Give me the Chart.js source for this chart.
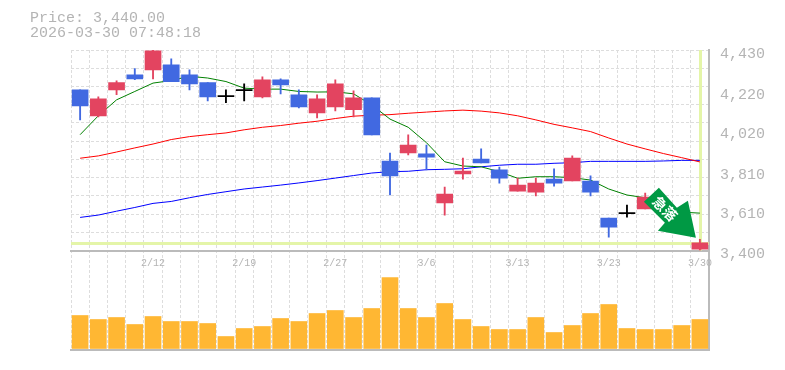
<!DOCTYPE html>
<html>
<head>
<meta charset="utf-8">
<style>
    html, body { margin: 0; padding: 0; background: #fff; overflow: hidden; }
    #wrap { position: relative; width: 785px; height: 370px; }
    canvas { position: absolute; left: 0; }
    #volumeChart { top: 250px; }
    #priceChart { top: 0; }
    .head { position: absolute; left: 30px; font: 15px/15px "Liberation Mono", monospace; color: #b4b4b4; white-space: pre; }
</style>
</head>
<body>
<div id="wrap">
    <canvas id="volumeChart" width="785" height="120"></canvas>
    <canvas id="priceChart" width="785" height="280"></canvas>
    <div class="head" style="top:11px">Price: 3,440.00</div>
    <div class="head" style="top:26px">2026-03-30 07:48:18</div>
</div>
<script src="https://cdn.jsdelivr.net/npm/chart.js@4/dist/chart.umd.min.js"></script>
<script>
const dates = ['2/5','2/6','2/9','2/10','2/12','2/13','2/16','2/17','2/18','2/19','2/20','2/24','2/25','2/26','2/27',
    '3/2','3/3','3/4','3/5','3/6','3/9','3/10','3/11','3/12','3/13','3/16','3/17','3/18','3/19','3/23','3/24','3/25','3/26','3/27','3/30'];
const opens = [4225,4092,4225,4303,4328,4354,4303,4262,4196,4227,4189,4277,4200,4107,4138,4123,4184,3860,3901,3896,3644,3793,3870,3814,3705,3700,3767,3757,3757,3566,3595,3613,3597,3597,3407];
const closes = [4143,4179,4262,4282,4426,4267,4256,4189,4190,4221,4277,4251,4138,4179,4256,4184,3994,3783,3942,3880,3690,3808,3850,3772,3736,3746,3746,3875,3700,3520,3589,3674,3644,3530,3440];
const highs = [4225,4189,4272,4334,4431,4385,4328,4262,4225,4256,4292,4282,4225,4200,4277,4220,4184,3901,3994,3942,3726,3875,3922,3829,3772,3772,3819,3886,3783,3566,3633,3695,3669,3623,3458];
const lows = [4071,4086,4200,4277,4282,4267,4225,4169,4160,4169,4184,4205,4133,4081,4117,4086,3994,3685,3891,3814,3582,3767,3850,3746,3705,3680,3731,3757,3680,3468,3571,3613,3577,3515,3400];
const maShort = [3995,4092,4174,4217,4260,4273,4295,4286,4268,4234,4229,4229,4217,4214,4215,4205,4148,4075,4033,3954,3856,3834,3830,3805,3771,3779,3779,3774,3762,3716,3685,3671,3633,3597,3592];
const maMiddle = [3874,3886,3906,3927,3947,3970,3985,3995,4004,4020,4033,4042,4054,4064,4078,4090,4095,4098,4105,4111,4117,4121,4116,4107,4092,4071,4048,4030,4011,3978,3947,3922,3898,3877,3855];
const maLong = [3570,3582,3602,3621,3642,3652,3671,3688,3702,3716,3726,3736,3747,3759,3772,3785,3798,3805,3807,3815,3817,3820,3830,3838,3843,3843,3848,3851,3858,3858,3858,3858,3860,3863,3863];
const volumes = [3300,2900,3100,2400,3200,2700,2700,2500,1200,2000,2200,3000,2700,3500,3800,3100,4000,7100,4000,3100,4500,2900,2200,1900,1900,3100,1600,2300,3500,4400,2000,1900,1900,2300,2900];
const priceTicks = [4430,4220,4020,3810,3610,3400];
const priceMin = 3400;
const priceMax = 4430;
const gridRows = 11;
const arrowLabel = '急落';

const GRID = '#ddd';
const AXIS = '#bbb';
const TEXT = '#b4b4b4';
const UP = '#e34460';
const DOWN = '#4169e1';
const HILITE = '#e4f5a8';
const ARROW = '#009944';
const AREA_LEFT = 71;
const AREA_RIGHT = 76;
const DASH = [3, 2];

function candleColor(i) {
    if (Math.abs(closes[i] - opens[i]) < 10) return '#000';
    return closes[i] > opens[i] ? UP : DOWN;
}

// last price guide lines, under the candles
const hilitePlugin = {
    id: 'hilite',
    beforeDatasetsDraw(chart) {
        const { ctx, chartArea, scales } = chart;
        const last = dates.length - 1;
        const px = Math.round(scales.x.getPixelForValue(last));
        const py = Math.round(scales.y.getPixelForValue(closes[last]));
        ctx.save();
        ctx.fillStyle = HILITE;
        ctx.fillRect(chartArea.left, py - 1, chartArea.width, 3);
        ctx.fillRect(px - 1, chartArea.top, 3, chartArea.height);
        ctx.restore();
    }
};

// green arrow, hung from the last candle
const arrowPlugin = {
    id: 'arrow',
    afterDatasetsDraw(chart) {
        const { ctx, scales } = chart;
        const last = dates.length - 1;
        const tipX = scales.x.getPixelForValue(last) - 4;
        const tipY = scales.y.getPixelForValue(closes[last]) - 5;
        const shape = [[-52, -36], [-37, -50], [-19, -30], [-8, -37], [0, 0], [-38, -7], [-31, -15]];
        ctx.save();
        ctx.translate(tipX, tipY);
        ctx.fillStyle = ARROW;
        ctx.beginPath();
        shape.forEach((p, i) => i ? ctx.lineTo(p[0], p[1]) : ctx.moveTo(p[0], p[1]));
        ctx.closePath();
        ctx.fill();
        ctx.translate(-31, -29);
        ctx.rotate(Math.PI / 4);
        ctx.fillStyle = '#fff';
        ctx.font = 'bold 14px "Noto Sans CJK JP"';
        ctx.textAlign = 'center';
        ctx.textBaseline = 'middle';
        ctx.fillText(arrowLabel, 0, 0);
        ctx.restore();
    }
};

new Chart(document.getElementById('priceChart').getContext('2d'), {
    type: 'bar',
    data: {
        labels: dates,
        datasets: [
            {
                label: 'body',
                data: dates.map((d, i) => [opens[i], closes[i]]),
                backgroundColor: dates.map((d, i) => candleColor(i)),
                barThickness: 16,
                grouped: false,
                order: 1
            },
            {
                label: 'wick',
                data: dates.map((d, i) => [lows[i], highs[i]]),
                backgroundColor: dates.map((d, i) => candleColor(i)),
                barThickness: 1.2,
                grouped: false,
                order: 2
            },
            { type: 'line', label: 'short', data: maShort, borderColor: '#008000', borderWidth: 1, pointRadius: 0, order: 3 },
            { type: 'line', label: 'middle', data: maMiddle, borderColor: '#ff0000', borderWidth: 1, pointRadius: 0, order: 4 },
            { type: 'line', label: 'long', data: maLong, borderColor: '#0000ff', borderWidth: 1, pointRadius: 0, order: 5 }
        ]
    },
    options: {
        responsive: false,
        animation: false,
        layout: { padding: { left: AREA_LEFT, right: 0, top: 50, bottom: 0 } },
        plugins: { legend: { display: false }, tooltip: { enabled: false } },
        scales: {
            x: {
                offset: true,
                grid: { offset: true, color: GRID, drawTicks: false },
                border: { display: true, color: AXIS, width: 2, dash: DASH },
                ticks: {
                    autoSkip: false,
                    maxRotation: 0,
                    padding: 7,
                    color: TEXT,
                    font: { family: '"Liberation Mono"', size: 10 },
                    callback: function(v, i) { return i % 5 === 4 ? dates[i] : ''; }
                },
                afterFit: function(scale) { scale.height = 29.5; }
            },
            y: {
                position: 'right',
                min: priceMin,
                max: priceMax,
                afterBuildTicks: function(scale) {
                    const step = (priceMax - priceMin) / gridRows;
                    const t = [];
                    for (let i = 0; i <= gridRows; i++) t.push({ value: priceMin + step * i });
                    scale.ticks = t;
                },
                grid: { color: GRID, drawTicks: false },
                border: { display: true, color: AXIS, width: 2, dash: DASH },
                ticks: { display: false },
                afterFit: function(scale) { scale.width = 1; }
            },
            yLabel: {
                position: 'right',
                min: priceMin,
                max: priceMax,
                afterBuildTicks: function(scale) {
                    scale.ticks = priceTicks.map(v => ({ value: v }));
                },
                grid: { display: false, drawTicks: false },
                border: { display: false },
                ticks: {
                    color: TEXT,
                    padding: 10,
                    labelOffset: 4,
                    font: { family: '"Liberation Mono"', size: 15 },
                    callback: function(v) { return v.toLocaleString('en-US'); }
                },
                afterFit: function(scale) { scale.width = AREA_RIGHT - 1; }
            }
        }
    },
    plugins: [hilitePlugin, arrowPlugin]
});

new Chart(document.getElementById('volumeChart').getContext('2d'), {
    type: 'bar',
    data: {
        labels: dates,
        datasets: [{ label: 'volume', data: volumes, backgroundColor: '#ffb733', barThickness: 16 }]
    },
    options: {
        responsive: false,
        animation: false,
        layout: { padding: { left: AREA_LEFT, right: AREA_RIGHT, top: 0, bottom: 20 } },
        plugins: { legend: { display: false }, tooltip: { enabled: false } },
        scales: {
            x: {
                offset: true,
                grid: { offset: true, color: GRID, drawTicks: false },
                border: { display: true, color: AXIS, width: 2, dash: DASH },
                ticks: { display: false }
            },
            y: {
                position: 'right',
                min: -150,
                max: 9850,
                grid: { display: false, drawTicks: false },
                border: { display: true, color: AXIS, width: 2 },
                ticks: { display: false }
            }
        }
    }
});
</script>
</body>
</html>
